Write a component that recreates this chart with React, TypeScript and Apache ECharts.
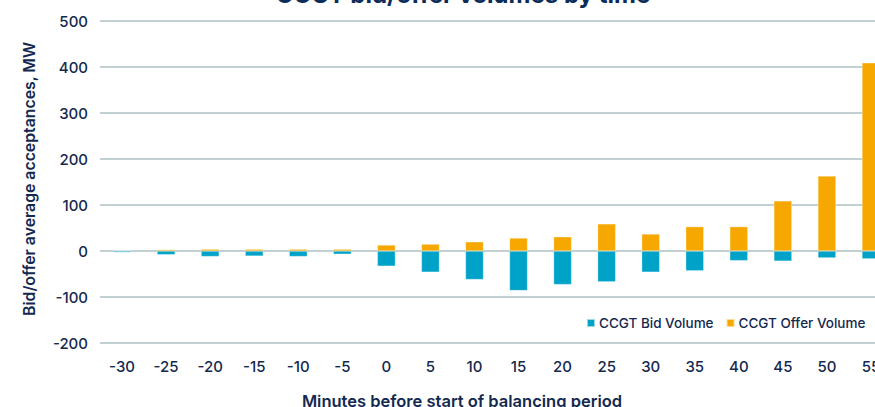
import React, { useEffect, useRef } from "react";
import * as echarts from "echarts";

const categories = ["-30", "-25", "-20", "-15", "-10", "-5", "0", "5", "10", "15", "20", "25", "30", "35", "40", "45", "50", "55"];
const bidVolume = [-3, -8, -12, -11, -12, -7, -33, -46, -62, -86, -73, -67, -46, -43, -21, -22, -15, -17];
const offerVolume = [1, 3, 4, 4, 4, 4, 13, 15, 20, 28, 31, 59, 37, 53, 53, 109, 163, 409];
const yTicks = { min: -200, max: 500, interval: 100 };

const NAVY = "#13294f";
const FONT = "Inter, 'Noto Sans', sans-serif";

export default function App() {
  const ref = useRef<HTMLDivElement>(null);
  useEffect(() => {
    document.body.style.margin = "0";
    const chart = echarts.init(ref.current!, undefined, { renderer: "svg" });
    chart.setOption({
      animation: false,
      grid: { left: 100, top: 21, right: 0, bottom: 64, containLabel: false },
      legend: {
        left: 581,
        top: 311,
        itemWidth: 8,
        itemHeight: 8,
        itemGap: 12,
        icon: "rect",
        textStyle: { color: NAVY, fontSize: 13.5, fontWeight: 500, fontFamily: FONT, padding: [0, 0, 0, -1] },
        data: ["CCGT Bid Volume", "CCGT Offer Volume"],
      },
      xAxis: {
        type: "category",
        data: categories,
        axisLine: { show: false, onZero: false },
        axisTick: { show: false },
        axisLabel: { color: NAVY, fontSize: 15, fontWeight: 500, fontFamily: FONT, margin: 16 },
      },
      yAxis: {
        type: "value",
        min: yTicks.min,
        max: yTicks.max,
        interval: yTicks.interval,
        axisLine: { show: false },
        axisTick: { show: false },
        axisLabel: { color: NAVY, fontSize: 15, fontWeight: 500, fontFamily: FONT, margin: 12 },
        splitLine: { lineStyle: { color: "#aebfc4", width: 1.5 } },
      },
      graphic: [
        {
          type: "text",
          x: 463,
          y: -6,
          style: {
            text: "CCGT bid/offer volumes by time",
            align: "center",
            verticalAlign: "middle",
            fill: "#0c2d5a",
            font: `bold 24px ${FONT}`,
          },
        },
        {
          type: "text",
          x: 462,
          y: 401,
          style: {
            text: "Minutes before start of balancing period",
            align: "center",
            verticalAlign: "middle",
            fill: NAVY,
            font: `600 16.5px ${FONT}`,
          },
        },
        {
          type: "text",
          x: 29,
          y: 179,
          rotation: Math.PI / 2,
          style: {
            text: "Bid/offer average acceptances, MW",
            align: "center",
            verticalAlign: "middle",
            fill: NAVY,
            font: `600 15.8px ${FONT}`,
          },
        },
      ],
      series: [
        {
          name: "CCGT Bid Volume",
          type: "bar",
          data: bidVolume,
          barWidth: 18,
          barGap: "-100%",
          itemStyle: { color: "#00a3c7", borderColor: "rgba(255,255,255,0.6)", borderWidth: 0.5 },
        },
        {
          name: "CCGT Offer Volume",
          type: "bar",
          data: offerVolume,
          barWidth: 18,
          barGap: "-100%",
          itemStyle: { color: "#f6a800", borderColor: "rgba(255,255,255,0.6)", borderWidth: 0.5 },
        },
      ],
    });
    return () => chart.dispose();
  }, []);
  return (
    <div style={{ width: 875, height: 407, overflow: "hidden" }}>
      <div ref={ref} style={{ width: 893, height: 407 }} />
    </div>
  );
}
